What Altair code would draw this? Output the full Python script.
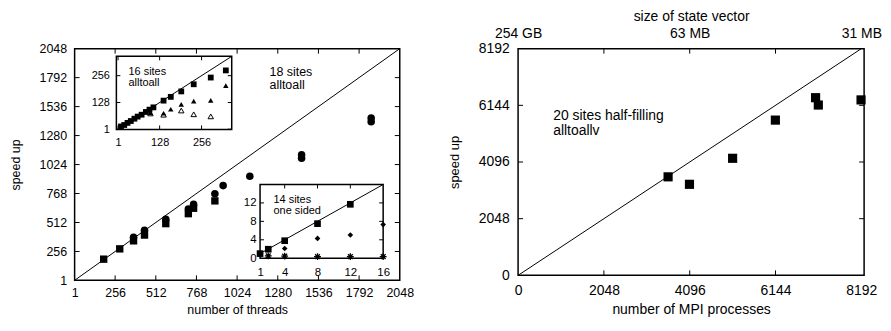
import altair as alt
import pandas as pd

FONT = "Liberation Sans"

# ---------------- data ----------------
# left panel: 18 sites alltoall (speed up vs number of threads)
main_ticks = [1, 256, 512, 768, 1024, 1280, 1536, 1792, 2048]
main_sq_x = [184, 285, 372, 441, 575, 717, 750, 884]
main_sq_y = [188, 279, 350, 401, 502, 590, 638, 703]
main_ci_x = [372, 441, 575, 717, 750, 884, 936, 1104, 1430, 1430, 1868, 1868]
main_ci_y = [382, 443, 540, 632, 672, 766, 838, 921, 1110, 1080, 1436, 1402]

# inset 1: 16 sites alltoall
in1_ticks = [1, 128, 256]
in1_domain_x = [-4, 348]
in1_domain_y = [0, 348]
in1_sq_x = [10, 20, 30, 40, 51, 61, 73, 86, 97, 109, 140, 162, 194, 232, 284, 330]
in1_sq_y = [14, 21, 31, 40, 51, 61, 70, 83, 94, 105, 137, 155, 181, 215, 247, 281]
in1_tf_x = [100, 140, 162, 194, 232, 284, 330]
in1_tf_y = [80, 77, 96, 119, 135, 138, 209]
in1_to_x = [100, 140, 194, 232, 284]
in1_to_y = [76, 70, 90, 72, 62]

# inset 2: 14 sites one sided
in2_ticks_x = [1, 4, 8, 12, 16]
in2_ticks_y = [0, 4, 8, 12]
in2_domain_x = [1, 16]
in2_domain_y = [0, 16]
in2_sq_x = [1, 2, 4, 8, 12]
in2_sq_y = [1, 1.95, 3.8, 7.5, 11.7]
in2_di_x = [1, 4, 8, 12, 16]
in2_di_y = [1, 2.1, 4.3, 5.05, 7.3]
in2_as_x = [2, 4, 8, 12, 16]
in2_as_y = [0.5, 0.45, 0.35, 0.35, 0.35]

# right panel: 20 sites half-filling alltoallv
r_ticks = [0, 2048, 4096, 6144, 8192]
r_top_vals = [0, 4096, 8192]
r_top_labels = ["254 GB", "63 MB", "31 MB"]
r_x = [3580, 4090, 5120, 6140, 7100, 7165, 8185]
r_y = [3560, 3290, 4230, 5610, 6420, 6155, 6340]

# ---------------- layout constants ----------------
LW, LH = 327, 233
RW, RH = 348, 228
K = LH / 241.0
IN1_X, IN1_Y = [42, 158], [84 * K, 8 * K]
IN2_X, IN2_Y = [186.5, 310.3], [218 * K, 141.3 * K]
TL = 5  # inward tick length


def df(**cols):
    return pd.DataFrame(cols)


def X(field, s, ax):
    return alt.X(field, scale=s, axis=ax)


def Y(field, s, ay):
    return alt.Y(field, scale=s, axis=ay)


def xticks(vals, sx, ax, y_px, length):
    return alt.Chart(df(v=vals)).mark_rule(color="black", strokeWidth=1).encode(
        x=X("v:Q", sx, ax), y=alt.value(y_px), y2=alt.value(y_px + length))


def yticks(vals, sy, ay, x_px, length):
    return alt.Chart(df(v=vals)).mark_rule(color="black", strokeWidth=1).encode(
        y=Y("v:Q", sy, ay), x=alt.value(x_px), x2=alt.value(x_px + length))


def pts(xs, ys, sx, sy, ax, ay, shape, size, filled=True, sw=1):
    return alt.Chart(df(x=xs, y=ys)).mark_point(
        shape=shape, filled=filled, size=size, color="black", opacity=1,
        strokeWidth=sw).encode(x=X("x:Q", sx, ax), y=Y("y:Q", sy, ay))


def diag(lo, hi, sx, sy, ax, ay):
    return alt.Chart(df(x0=[lo], y0=[lo], x1=[hi], y1=[hi])).mark_rule(
        color="black", strokeWidth=1).encode(
        x=X("x0:Q", sx, ax), y=Y("y0:Q", sy, ay), x2="x1:Q", y2="y1:Q")


def label(lines, x, y, sx, sy, ax, ay, size, lh):
    return alt.Chart(df(x=[x], y=[y])).mark_text(
        text=lines, align="left", baseline="alphabetic", font=FONT,
        fontSize=size, lineHeight=lh, color="black").encode(
        x=X("x:Q", sx, ax), y=Y("y:Q", sy, ay))


def frame(dx, dy, sx, sy, ax, ay):
    return alt.Chart(df(x0=[dx[0]], x1=[dx[1]], y0=[dy[0]], y1=[dy[1]])).mark_rect(
        fill="white", stroke="black", strokeWidth=1.5).encode(
        x=X("x0:Q", sx, ax), x2="x1:Q", y=Y("y0:Q", sy, ay), y2="y1:Q")


ASTERISK = "M-1,0L1,0M0,-1L0,1M-0.7,-0.7L0.7,0.7M-0.7,0.7L0.7,-0.7"

# ---------------- left panel: main ----------------
sxm = alt.Scale(domain=[main_ticks[0], main_ticks[-1]], nice=False, zero=False)
sym = alt.Scale(domain=[main_ticks[0], main_ticks[-1]], nice=False, zero=False)
axm = alt.Axis(values=main_ticks, title="number of threads", labelFontSize=12.5,
               titleFontSize=12.5, labelPadding=6, titlePadding=5, format="d")
aym = alt.Axis(values=main_ticks, title="speed up", labelFontSize=12.5,
               titleFontSize=12.5, labelPadding=8, titlePadding=17, format="d")

main_layer = alt.layer(
    pts(main_sq_x, main_sq_y, sxm, sym, axm, aym, "square", 55),
    diag(main_ticks[0], main_ticks[-1], sxm, sym, axm, aym),
    pts(main_ci_x, main_ci_y, sxm, sym, axm, aym, "circle", 58),
    label(["18 sites", "alltoall"], 1228, 1804, sxm, sym, axm, aym, 12.5, 13),
    xticks(main_ticks[1:-1], sxm, axm, LH, -TL),
    xticks(main_ticks[1:-1], sxm, axm, 0, TL),
    yticks(main_ticks[1:-1], sym, aym, 0, TL),
    yticks(main_ticks[1:-1], sym, aym, LW, -TL),
)

# ---------------- inset 1 ----------------
s1x = alt.Scale(domain=in1_domain_x, range=IN1_X, nice=False, zero=False)
s1y = alt.Scale(domain=in1_domain_y, range=IN1_Y, nice=False, zero=False)
ax1 = alt.Axis(orient="bottom", offset=IN1_Y[0] - LH, values=in1_ticks, title=None,
               labelFontSize=11, labelPadding=7, format="d")
ay1 = alt.Axis(orient="left", offset=-IN1_X[0], values=in1_ticks, title=None,
               labelFontSize=11, labelPadding=7, format="d")
inset1 = alt.layer(
    frame(in1_domain_x, in1_domain_y, s1x, s1y, ax1, ay1),
    diag(0, in1_domain_y[1], s1x, s1y, ax1, ay1),
    pts(in1_tf_x, in1_tf_y, s1x, s1y, ax1, ay1, "triangle-up", 30),
    pts(in1_to_x, in1_to_y, s1x, s1y, ax1, ay1, "triangle-up", 30, filled=False),
    pts(in1_sq_x, in1_sq_y, s1x, s1y, ax1, ay1, "square", 34),
    label(["16 sites", "alltoall"], 33, 261, s1x, s1y, ax1, ay1, 11, 11.5),
    xticks(in1_ticks, s1x, ax1, IN1_Y[0], -4),
    xticks(in1_ticks, s1x, ax1, IN1_Y[1], 4),
    yticks(in1_ticks, s1y, ay1, IN1_X[0], 4),
    yticks(in1_ticks, s1y, ay1, IN1_X[1], -4),
)

# ---------------- inset 2 ----------------
s2x = alt.Scale(domain=in2_domain_x, range=IN2_X, nice=False, zero=False)
s2y = alt.Scale(domain=in2_domain_y, range=IN2_Y, nice=False, zero=False)
ax2 = alt.Axis(orient="bottom", offset=IN2_Y[0] - LH, values=in2_ticks_x, title=None,
               labelFontSize=11.5, labelPadding=8, format="d")
ay2 = alt.Axis(orient="left", offset=-IN2_X[0], values=in2_ticks_y, title=None,
               labelFontSize=11.5, labelPadding=4, format="d")
inset2 = alt.layer(
    frame(in2_domain_x, in2_domain_y, s2x, s2y, ax2, ay2),
    diag(in2_domain_x[0], in2_domain_x[1], s2x, s2y, ax2, ay2),
    pts(in2_as_x, in2_as_y, s2x, s2y, ax2, ay2, ASTERISK, 48, filled=False, sw=1.3),
    pts(in2_di_x, in2_di_y, s2x, s2y, ax2, ay2, "diamond", 32),
    pts(in2_sq_x, in2_sq_y, s2x, s2y, ax2, ay2, "square", 45),
    label(["14 sites", "one sided"], 2.64, 12.05, s2x, s2y, ax2, ay2, 11, 11.5),
    xticks(in2_ticks_x[1:-1], s2x, ax2, IN2_Y[0], -4),
    xticks(in2_ticks_x[1:-1], s2x, ax2, IN2_Y[1], 4),
    yticks(in2_ticks_y[1:], s2y, ay2, IN2_X[0], 4),
    yticks(in2_ticks_y[1:], s2y, ay2, IN2_X[1], -4),
)

left = alt.layer(main_layer, inset1, inset2).resolve_scale(
    x="independent", y="independent").properties(width=LW, height=LH)

# ---------------- right panel ----------------
sxr = alt.Scale(domain=[0, 8258], nice=False, zero=False)
syr = alt.Scale(domain=[r_ticks[0], r_ticks[-1]], nice=False, zero=False)
axr = alt.Axis(values=r_ticks, title="number of MPI processes", labelFontSize=14,
               titleFontSize=14, labelPadding=8, titlePadding=5, format="d")
ayr = alt.Axis(values=r_ticks, title="speed up", labelFontSize=14,
               titleFontSize=13, labelPadding=9, titlePadding=17, format="d")
top_expr = "''"
for v, lab in reversed(list(zip(r_top_vals, r_top_labels))):
    top_expr = f"datum.value == {v} ? '{lab}' : {top_expr}"
ax_top = alt.Axis(orient="top", values=r_top_vals, labelExpr=top_expr,
                  title="size of state vector", labelFontSize=14, titleFontSize=14,
                  labelPadding=8, titlePadding=3)

right = alt.layer(
    pts(r_x, r_y, sxr, syr, axr, ayr, "square", 85),
    diag(r_ticks[0], r_ticks[-1], sxr, syr, None, ayr),
    label(["20 sites half-filling", "alltoallv"], 838, 5609, sxr, syr, None, ayr, 14, 14.5),
    xticks(r_ticks[1:-1], sxr, ax_top, 0, TL),
    xticks(r_ticks[1:-1], sxr, None, RH, -TL),
    yticks(r_ticks[1:-1], syr, ayr, 0, TL),
    yticks(r_ticks[1:-1], syr, ayr, RW, -TL),
).resolve_axis(x="independent").properties(width=RW, height=RH)

chart = alt.hconcat(left, right, spacing=33).properties(
    padding={"left": 0, "top": 0, "right": 0, "bottom": 0}
).configure_view(stroke="black", strokeWidth=1.5).configure_axis(
    labelFont=FONT, titleFont=FONT, labelColor="black", titleColor="black",
    titleFontWeight="normal", grid=False, domain=False, ticks=False, tickSize=0,
    labelFlush=False, labelOverlap=False
)

chart.save("out.html", embed_options={"renderer": "svg", "actions": False})
